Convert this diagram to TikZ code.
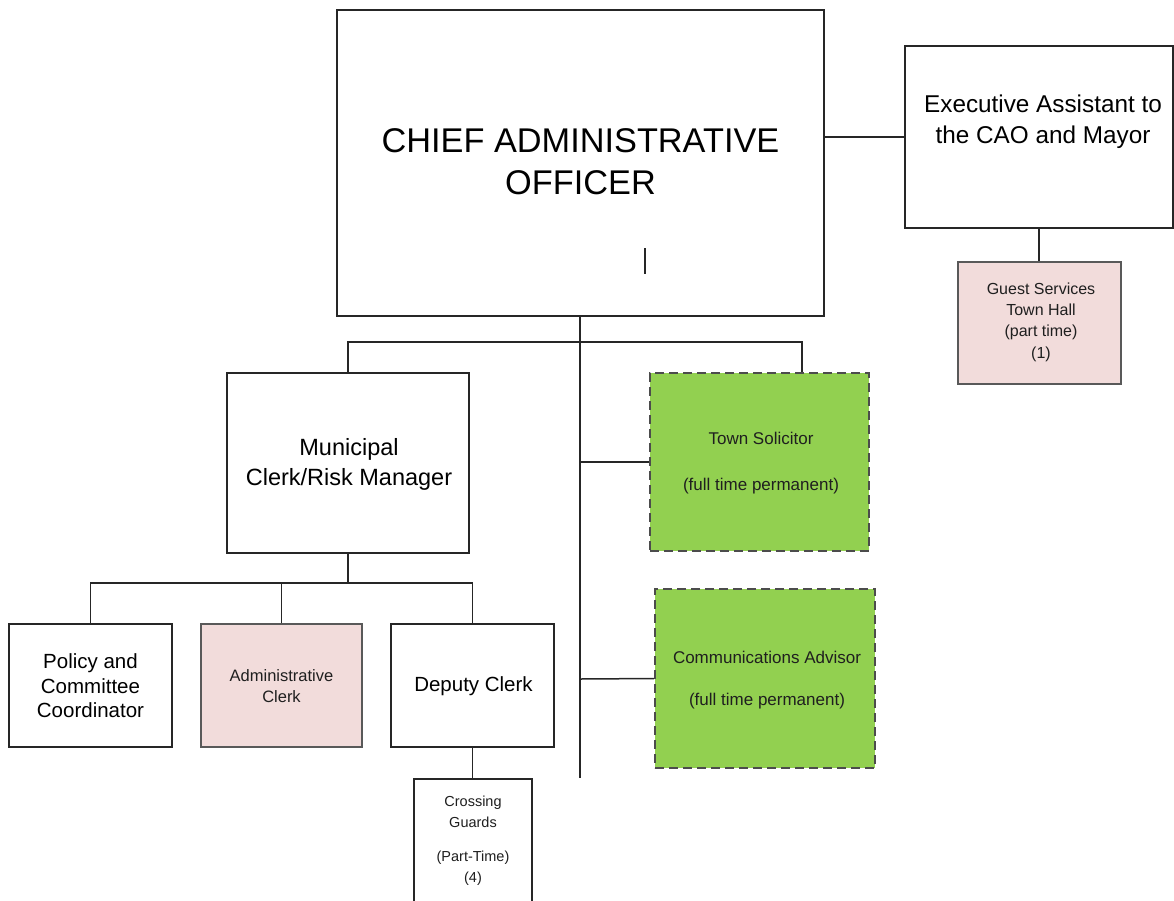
\documentclass[tikz,border=0pt]{standalone}
\usepackage{fontspec}
\setmainfont{Liberation Sans}
\definecolor{pinkc}{HTML}{F2DCDB}
\definecolor{greenc}{HTML}{92D050}
\definecolor{linec}{HTML}{262626}
\begin{document}
\begin{tikzpicture}[x=1pt,y=-1pt,
  box/.style={draw=linec, line width=1.5pt, rectangle, inner sep=0pt, fill=white},
  pinkbox/.style={box, fill=pinkc, draw=black!65},
  greenbox/.style={rectangle, inner sep=0pt, draw=black!70, line width=1.6pt, dash pattern=on 9pt off 5pt, fill=greenc},
  conn/.style={draw=linec, line width=1.5pt},
  txt/.style={align=center, inner sep=0pt, text=black},
  small/.style={txt, text=black!88}]
\useasboundingbox (0,0) rectangle (1174,900);
\clip (0,0) rectangle (1174,900);

% boxes
\node[box, minimum width=487pt, minimum height=306pt] (cao) at (580.5,163) {};
\node[box, minimum width=268pt, minimum height=182pt] (exe) at (1039,137) {};
\node[pinkbox, minimum width=163pt, minimum height=122pt] (gs) at (1039.5,323) {};
\node[box, minimum width=242pt, minimum height=180pt] (mc) at (348,463) {};
\node[greenbox, minimum width=219pt, minimum height=178pt] (ts) at (759.5,462) {};
\node[greenbox, minimum width=220pt, minimum height=179pt] (ca) at (765,678.5) {};
\node[box, minimum width=163pt, minimum height=123pt] (pc) at (90.5,685.5) {};
\node[pinkbox, minimum width=161pt, minimum height=123pt] (ac) at (281.5,685.5) {};
\node[box, minimum width=163pt, minimum height=123pt] (dc) at (472.5,685.5) {};
\node[box, minimum width=118pt, minimum height=140pt] (cg) at (473,849) {};

% texts
\node[txt, font=\fontsize{34.3}{42}\selectfont] (caot) at (580.5,162) {CHIEF ADMINISTRATIVE\\OFFICER};
\node[txt, font=\fontsize{24.3}{31}\selectfont] (exet) at (1043,122) {Executive Assistant to\\the CAO and Mayor};
\node[small, font=\fontsize{16}{21.3}\selectfont] (gst) at (1041,322) {Guest Services\\Town Hall\\(part time)\\(1)};
\node[txt, font=\fontsize{23.5}{30}\selectfont] (mct) at (349,464) {Municipal\\Clerk/Risk Manager};
\node[small, font=\fontsize{17}{46}\selectfont] (tst) at (761,463) {Town Solicitor\\(full time permanent)};
\node[small, font=\fontsize{17}{42}\selectfont] (cat) at (767,680) {Communications Advisor\\(full time permanent)};
\node[txt, font=\fontsize{20.5}{24.5}\selectfont] (pct) at (90.5,686) {Policy and\\Committee\\Coordinator};
\node[small, font=\fontsize{16.5}{21}\selectfont] (act) at (281.5,686) {Administrative\\Clerk};
\node[txt, font=\fontsize{20.5}{24}\selectfont] (dct) at (473.5,686) {Deputy Clerk};
\node[small, font=\fontsize{14.5}{21}\selectfont] (cgt) at (473,841) {Crossing\\Guards\\[13pt](Part-Time)\\(4)};

% tick inside CAO box
\draw[conn, line width=1.2pt] (645,248) -- (645,274);

% coordinates
\coordinate (trunkEnd) at (580,778);
\coordinate (busL) at (348,342);
\coordinate (busR) at (802,342);
\coordinate (tsJ) at (580,462);
\coordinate (caJ) at (580,679);
\coordinate (mcBus) at (348,583);

% connectors
\draw[conn] (cao.east |- exe.west) -- (exe.west);
\draw[conn] (exe.south) -- (exe.south |- gs.north);
\draw[conn] (580,316) -- (trunkEnd);
\draw[conn] (mc.north) -- (busL) -- (busR) -- (ts.north -| busR);
\draw[conn] (tsJ) -- (ts.west);
\draw[conn] (caJ) -- (ca.west);
\draw[conn] (mc.south) -- (mcBus);
\draw[conn] (pc.north) |- (mcBus) -| (dc.north);
\draw[conn] (ac.north) -- (ac.north |- mcBus);
\draw[conn] (dc.south) -- (dc.south |- cg.north);
\end{tikzpicture}
\end{document}
